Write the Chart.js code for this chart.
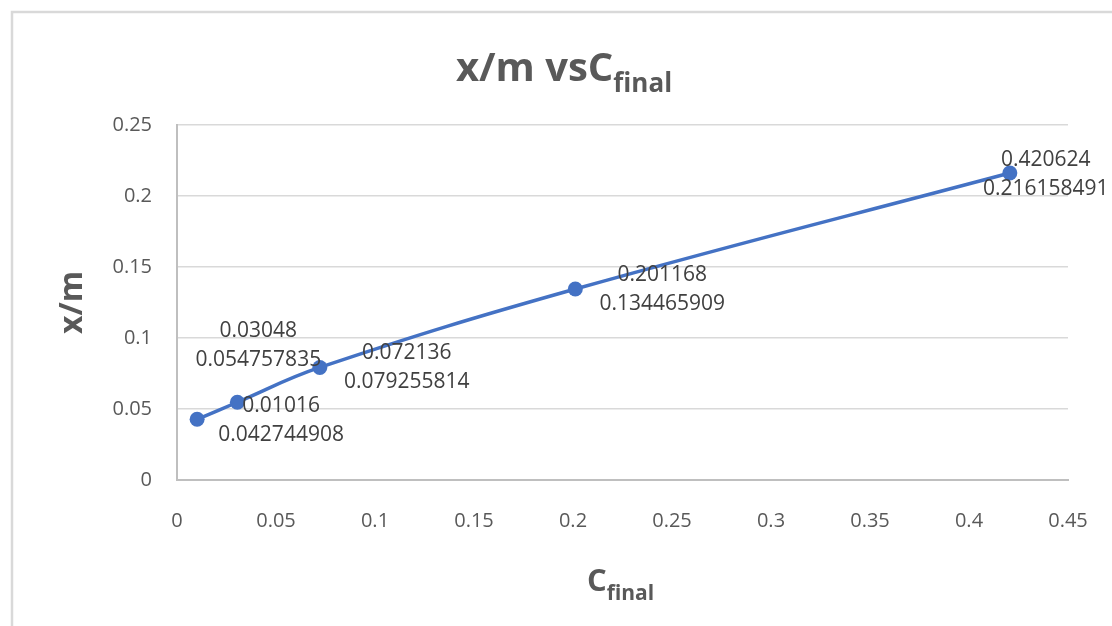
<!DOCTYPE html>
<html>
<head>
<meta charset="utf-8">
<title>x/m vs C final</title>
<script src="https://cdn.jsdelivr.net/npm/chart.js@4.4.1/dist/chart.umd.min.js"></script>
<style>
  html, body { margin: 0; padding: 0; background: #ffffff; }
  canvas { display: block; }
</style>
</head>
<body>
<canvas id="chart" width="1112" height="626"></canvas>
<script>
// Final concentration (x) and adsorbed amount per mass (y)
const cFinal = [0.01016, 0.03048, 0.072136, 0.201168, 0.420624];
const xPerM = [0.042744908, 0.054757835, 0.079255814, 0.134465909, 0.216158491];

// Axis tick values
const xTickValues = [0, 0.05, 0.1, 0.15, 0.2, 0.25, 0.3, 0.35, 0.4, 0.45];
const yTickValues = [0, 0.05, 0.1, 0.15, 0.2, 0.25];

// Text
const titleMain = 'x/m vsC';
const titleSub = 'final';
const yTitle = 'x/m';
const xTitleMain = 'C';
const xTitleSub = 'final';

const FONT = '"Open Sans", "Liberation Sans", sans-serif';
const BLUE = '#4472c4';

// Where each point's two-line value label sits, relative to its marker (px)
const labelPlacement = [
  { dx: 84, dy: 1 },
  { dx: 21, dy: -57 },
  { dx: 87, dy: 0 },
  { dx: 87, dy: 0 },
  { dx: 36, dy: 1 }
];

// Outer frame lines along the top and left edges
const framePlugin = {
  id: 'frame',
  beforeDraw(chart) {
    const ctx = chart.ctx;
    ctx.save();
    ctx.fillStyle = '#ffffff';
    ctx.fillRect(0, 0, chart.width, chart.height);
    ctx.strokeStyle = '#d9d9d9';
    ctx.lineWidth = 2.5;
    ctx.beginPath();
    ctx.moveTo(12, chart.height);
    ctx.lineTo(12, 12);
    ctx.lineTo(chart.width, 12);
    ctx.stroke();
    ctx.restore();
  }
};

// Draws a main string followed by a lowered subscript, centred on cx
function drawSubscripted(ctx, main, sub, cx, baseline, mainSize, subSize, subDrop) {
  ctx.font = 'bold ' + mainSize + 'px ' + FONT;
  const wMain = ctx.measureText(main).width;
  ctx.font = 'bold ' + subSize + 'px ' + FONT;
  const wSub = ctx.measureText(sub).width;
  const left = cx - (wMain + wSub) / 2;
  ctx.textAlign = 'left';
  ctx.textBaseline = 'alphabetic';
  ctx.font = 'bold ' + mainSize + 'px ' + FONT;
  ctx.fillText(main, left, baseline);
  ctx.font = 'bold ' + subSize + 'px ' + FONT;
  ctx.fillText(sub, left + wMain, baseline + subDrop);
}

// Chart title and axis titles
const titlesPlugin = {
  id: 'titles',
  afterDraw(chart) {
    const ctx = chart.ctx;
    const area = chart.chartArea;
    ctx.save();
    ctx.fillStyle = '#595959';
    drawSubscripted(ctx, titleMain, titleSub, 564, 81, 40, 26, 11);
    drawSubscripted(ctx, xTitleMain, xTitleSub, (area.left + area.right) / 2 - 2, 591, 31, 21, 9);
    ctx.translate(82, (area.top + area.bottom) / 2);
    ctx.rotate(-Math.PI / 2);
    ctx.font = 'bold 32px ' + FONT;
    ctx.textAlign = 'center';
    ctx.textBaseline = 'alphabetic';
    ctx.fillText(yTitle, 0, 0);
    ctx.restore();
  }
};

// Two-line value labels (x on top, y below) next to each marker
const valueLabelsPlugin = {
  id: 'valueLabels',
  afterDatasetsDraw(chart) {
    const ctx = chart.ctx;
    const xs = chart.scales.x;
    const ys = chart.scales.y;
    ctx.save();
    ctx.fillStyle = '#404040';
    ctx.font = '21px ' + FONT;
    ctx.textAlign = 'center';
    ctx.textBaseline = 'middle';
    cFinal.forEach((cx, i) => {
      const px = xs.getPixelForValue(cx);
      const py = ys.getPixelForValue(xPerM[i]);
      const p = labelPlacement[i];
      const bx = px + p.dx;
      const by = py + p.dy;
      ctx.fillText(String(cx), bx, by - 14.5);
      ctx.fillText(String(xPerM[i]), bx, by + 14.5);
    });
    ctx.restore();
  }
};

const tickFont = { family: FONT, size: 20 };

new Chart(document.getElementById('chart'), {
  type: 'scatter',
  data: {
    datasets: [{
      data: cFinal.map((c, i) => ({ x: c, y: xPerM[i] })),
      showLine: true,
      borderColor: BLUE,
      backgroundColor: BLUE,
      borderWidth: 3.5,
      pointRadius: 7.5,
      pointHoverRadius: 7.5,
      pointBorderWidth: 0,
      tension: 0.4,
      clip: false
    }]
  },
  options: {
    responsive: false,
    animation: false,
    events: [],
    layout: { padding: { left: 0, right: 44, top: 125, bottom: 0 } },
    plugins: {
      legend: { display: false },
      tooltip: { enabled: false },
      title: { display: false }
    },
    scales: {
      x: {
        type: 'linear',
        min: 0,
        max: 0.45,
        afterBuildTicks(scale) { scale.ticks = xTickValues.map(v => ({ value: v })); },
        afterFit(scale) { scale.height = 146; },
        // invisible tick marks give the gap between axis line and labels
        grid: { color: 'rgba(0,0,0,0)', tickColor: 'rgba(0,0,0,0)', drawTicks: true, tickLength: 29 },
        border: { color: '#bfbfbf', width: 2 },
        ticks: {
          padding: 0,
          color: '#595959',
          font: tickFont,
          maxRotation: 0,
          autoSkip: false,
          callback: v => String(v)
        }
      },
      y: {
        type: 'linear',
        min: 0,
        max: 0.25,
        afterBuildTicks(scale) { scale.ticks = yTickValues.map(v => ({ value: v })); },
        afterFit(scale) { scale.width = 177; },
        grid: { color: '#d9d9d9', lineWidth: 1.5, drawTicks: false },
        border: { color: '#bfbfbf', width: 2 },
        ticks: {
          padding: 25,
          color: '#595959',
          font: tickFont,
          autoSkip: false,
          callback: v => String(v)
        }
      }
    }
  },
  plugins: [framePlugin, valueLabelsPlugin, titlesPlugin]
});
</script>
</body>
</html>
